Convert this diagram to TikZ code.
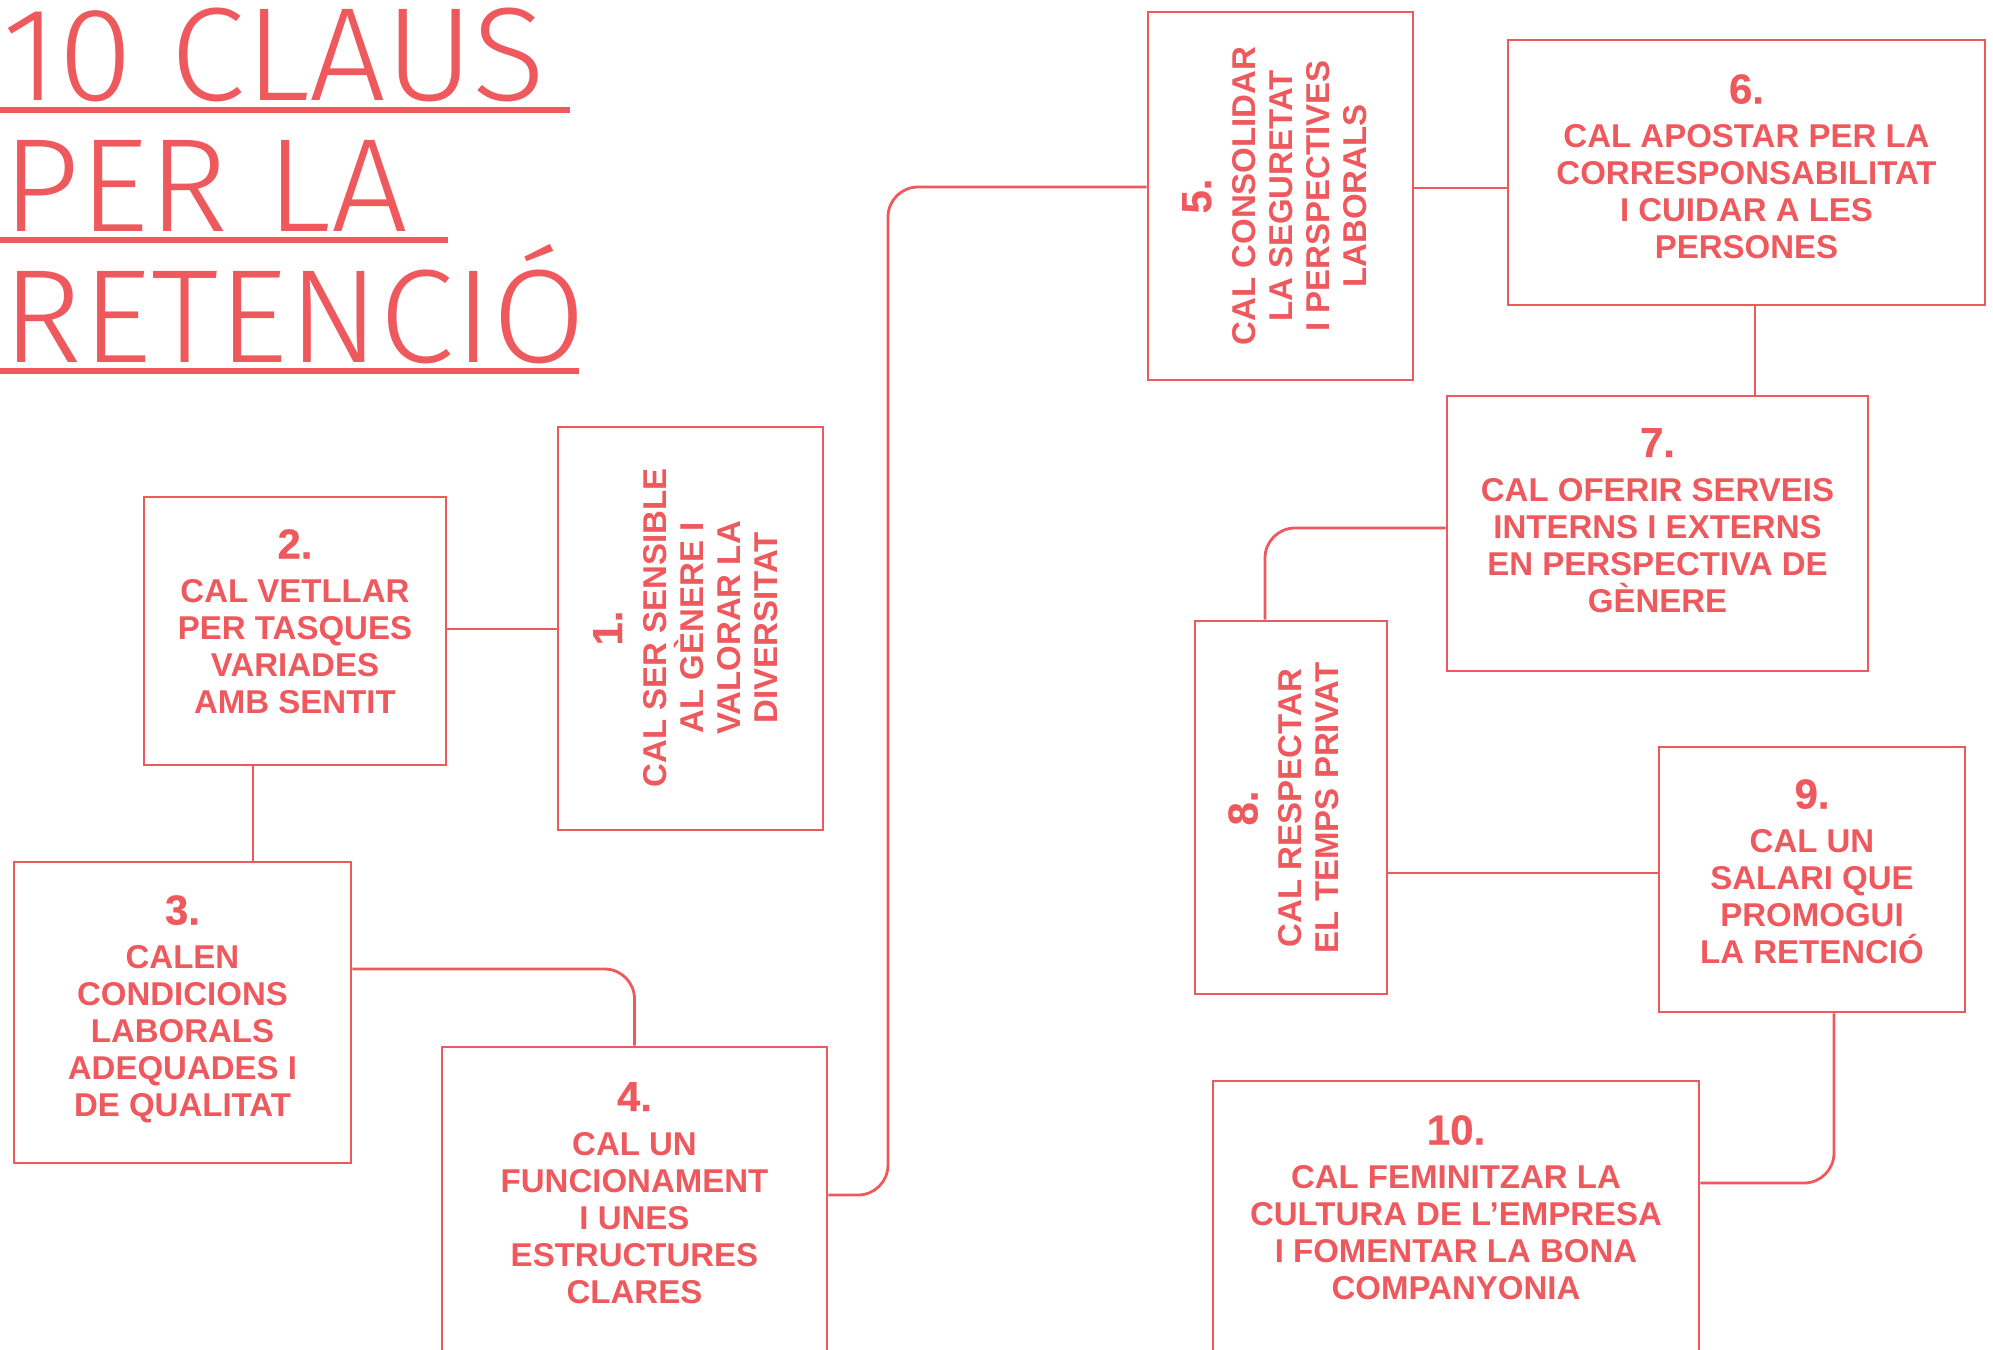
\documentclass[tikz,border=0pt]{standalone}
\usepackage{fontspec}
\setmainfont{Liberation Sans}
\newfontfamily\titlefont{Fira Sans Light}[FakeStretch=1.02]
\newfontfamily\numfont{Liberation Sans}[FakeBold=0.5]
\usepackage{xcolor}
\usetikzlibrary{positioning}
\definecolor{clau}{RGB}{238,89,93}
\newcommand{\clnum}[1]{{\numfont\fontsize{42}{37}\selectfont #1}}

\begin{document}
\begin{tikzpicture}[x=1pt, y=-1pt,
        box/.style={draw=clau, line width=2.8pt, inner sep=0pt},
        boxtext/.style={text=clau, align=center, inner sep=0pt, anchor=north,
            font=\fontsize{33}{37}\selectfont\bfseries},
        vtext/.style={boxtext, rotate=90},
        link/.style={draw=clau, line width=2.8pt, rounded corners=30pt},
        title/.style={text=clau, inner sep=0pt, anchor=base west,
            font=\titlefont\fontsize{133}{133}\selectfont},
        uline/.style={draw=clau, line width=6pt}]
    \useasboundingbox (0,0) rectangle (1993,1349);
    \clip (0,0) rectangle (1993,1349);

    % title
    \node[title] (titol1) at (2,100) {10 CLAUS};
    \node[title] (titol2) at (2,231) {PER LA};
    \node[title] (titol3) at (2,362) {RETENCIÓ};
    \draw[uline] (0,110) -- (570,110);
    \draw[uline] (0,240) -- (448,240);
    \draw[uline] (0,371) -- (579,371);

    % boxes
    \node[box, minimum width=265pt, minimum height=403pt] (b1) at (690.5,628.5) {};
    \node[box, minimum width=302pt, minimum height=268pt] (b2) at (295,631) {};
    \node[box, minimum width=337pt, minimum height=301pt] (b3) at (182.5,1012.5) {};
    \node[box, minimum width=385pt, minimum height=353pt] (b4) at (634.5,1223.5) {};
    \node[box, minimum width=265pt, minimum height=368pt] (b5) at (1280.5,196) {};
    \node[box, minimum width=477pt, minimum height=265pt] (b6) at (1746.5,172.5) {};
    \node[box, minimum width=421pt, minimum height=275pt] (b7) at (1657.5,533.5) {};
    \node[box, minimum width=192pt, minimum height=373pt] (b8) at (1291,807.5) {};
    \node[box, minimum width=306pt, minimum height=265pt] (b9) at (1812,879.5) {};
    \node[box, minimum width=486pt, minimum height=319pt] (b10) at (1456,1240.5) {};

    % texts
    \node[vtext] (t1) at (593,628) {\clnum{1.}\\[7pt]CAL SER SENSIBLE\\AL GÈNERE I\\VALORAR LA\\DIVERSITAT};
    \node[boxtext] (t2) at (295,529) {\clnum{2.}\\[7pt]CAL VETLLAR\\PER TASQUES\\VARIADES\\AMB SENTIT};
    \node[boxtext] (t3) at (182.5,895) {\clnum{3.}\\[7pt]CALEN\\CONDICIONS\\LABORALS\\ADEQUADES I\\DE QUALITAT};
    \node[boxtext] (t4) at (634.5,1082) {\clnum{4.}\\[7pt]CAL UN\\FUNCIONAMENT\\I UNES\\ESTRUCTURES\\CLARES};
    \node[vtext] (t5) at (1182,196) {\clnum{5.}\\[7pt]CAL CONSOLIDAR\\LA SEGURETAT\\I PERSPECTIVES\\LABORALS};
    \node[boxtext] (t6) at (1746.5,74) {\clnum{6.}\\[7pt]CAL APOSTAR PER LA\\CORRESPONSABILITAT\\I CUIDAR A LES\\PERSONES};
    \node[boxtext] (t7) at (1657.5,428) {\clnum{7.}\\[7pt]CAL OFERIR SERVEIS\\INTERNS I EXTERNS\\EN PERSPECTIVA DE\\GÈNERE};
    \node[vtext] (t8) at (1228,808) {\clnum{8.}\\[7pt]CAL RESPECTAR\\EL TEMPS PRIVAT};
    \node[boxtext] (t9) at (1812,779) {\clnum{9.}\\[7pt]CAL UN\\SALARI QUE\\PROMOGUI\\LA RETENCIÓ};
    \node[boxtext] (t10) at (1456,1115) {\clnum{10.}\\[7pt]CAL FEMINITZAR LA\\CULTURA DE L’EMPRESA\\I FOMENTAR LA BONA\\COMPANYONIA};

    % connectors
    \draw[link] (b2.east |- 0,629) -- (b1.west |- 0,629);
    \draw[link] (253,0 |- b2.south) -- (253,0 |- b3.north);
    \draw[link] (b3.east |- 0,969) -| (b4.north);
    \draw[link] (b4.east |- 0,1195) -| (888,187) -- (b5.west |- 0,187);
    \draw[link] (b5.east |- 0,188) -- (b6.west |- 0,188);
    \draw[link] (1755,0 |- b6.south) -- (1755,0 |- b7.north);
    \draw[link] (b7.west |- 0,528) -| (b8.north -| 1265,0);
    \draw[link] (b8.east |- 0,873) -- (b9.west |- 0,873);
    \draw[link] (1834,0 |- b9.south) |- (b10.east |- 0,1183);
\end{tikzpicture}
\end{document}
